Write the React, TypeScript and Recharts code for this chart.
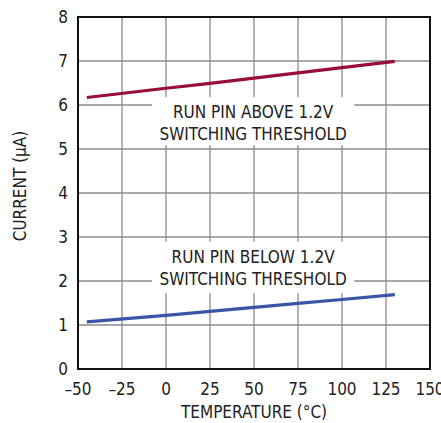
import {
  LineChart,
  Line,
  XAxis,
  YAxis,
  CartesianGrid,
  ReferenceArea,
} from 'recharts';

const temperatures = [-45, 0, 25, 50, 75, 100, 130];
const aboveThreshold = [6.17, 6.38, 6.49, 6.61, 6.73, 6.85, 6.99];
const belowThreshold = [1.07, 1.22, 1.31, 1.4, 1.49, 1.58, 1.69];

const xTicks = [-50, -25, 0, 25, 50, 75, 100, 125, 150];
const yTicks = [0, 1, 2, 3, 4, 5, 6, 7, 8];

const aboveLabel = ['RUN PIN ABOVE 1.2V', 'SWITCHING THRESHOLD'];
const belowLabel = ['RUN PIN BELOW 1.2V', 'SWITCHING THRESHOLD'];

const data = temperatures.map((t, i) => ({
  t,
  above: aboveThreshold[i],
  below: belowThreshold[i],
}));

const FONT = "'DejaVu Sans Condensed', 'Liberation Sans Narrow', sans-serif";
const TEXT = '#222';
const SIZE = 17;

function boxLabel(lines: string[]) {
  return (props: any) => {
    const vb = props.viewBox || {};
    const cx = vb.x + vb.width / 2;
    return (
      <g>
        {lines.map((line, i) => (
          <text
            key={line}
            x={cx}
            y={vb.y + 21 + i * 22}
            textAnchor="middle"
            fontFamily={FONT}
            fontSize={SIZE}
            fill={TEXT}
          >
            {line}
          </text>
        ))}
      </g>
    );
  };
}

const fmtTick = (v: number) => (v < 0 ? `–${-v}` : `${v}`);

export default function App() {
  return (
    <div
      style={{
        position: 'fixed',
        left: 0,
        top: 0,
        width: 441,
        height: 423,
        overflow: 'hidden',
        background: '#fff',
      }}
    >
      <style>{'html,body{margin:0;overflow:hidden;}'}</style>
      <LineChart
        width={441}
        height={423}
        data={data}
        margin={{ top: 17, right: 11, left: 18, bottom: 24 }}
      >
        <CartesianGrid stroke="#8a8a8a" strokeWidth={1.3} />
        <XAxis
          dataKey="t"
          type="number"
          domain={[-50, 150]}
          ticks={xTicks}
          tickFormatter={fmtTick}
          interval={0}
          tickLine={false}
          axisLine={false}
          tickSize={0}
          tickMargin={14}
          height={30}
          tick={{ fill: TEXT, fontFamily: FONT, fontSize: SIZE }}
          label={{
            value: 'TEMPERATURE (°C)',
            position: 'bottom',
            offset: 7,
            fill: TEXT,
            fontFamily: FONT,
            fontSize: SIZE,
          }}
        />
        <YAxis
          type="number"
          domain={[0, 8]}
          ticks={yTicks}
          interval={0}
          tickLine={false}
          axisLine={false}
          tickSize={0}
          tickMargin={10}
          width={60}
          tick={{ fill: TEXT, fontFamily: FONT, fontSize: SIZE }}
          label={{
            value: 'CURRENT (μA)',
            angle: -90,
            position: 'center',
            dx: -28,
            dy: -7,
            fill: TEXT,
            fontFamily: FONT,
            fontSize: SIZE,
          }}
        />
        <ReferenceArea
          x1={-8}
          x2={107}
          y1={5.09}
          y2={6.18}
          fill="#fff"
          fillOpacity={1}
          stroke="none"
          label={boxLabel(aboveLabel)}
        />
        <ReferenceArea
          x1={-8}
          x2={107}
          y1={1.73}
          y2={2.89}
          fill="#fff"
          fillOpacity={1}
          stroke="none"
          label={boxLabel(belowLabel)}
        />
        <ReferenceArea
          x1={-50}
          x2={150}
          y1={0}
          y2={8}
          fill="none"
          stroke="#111"
          strokeWidth={2}
        />
        <Line
          dataKey="above"
          stroke="#990d38"
          strokeWidth={3.2}
          dot={false}
          isAnimationActive={false}
        />
        <Line
          dataKey="below"
          stroke="#3a55a8"
          strokeWidth={3.2}
          dot={false}
          isAnimationActive={false}
        />
      </LineChart>
    </div>
  );
}
